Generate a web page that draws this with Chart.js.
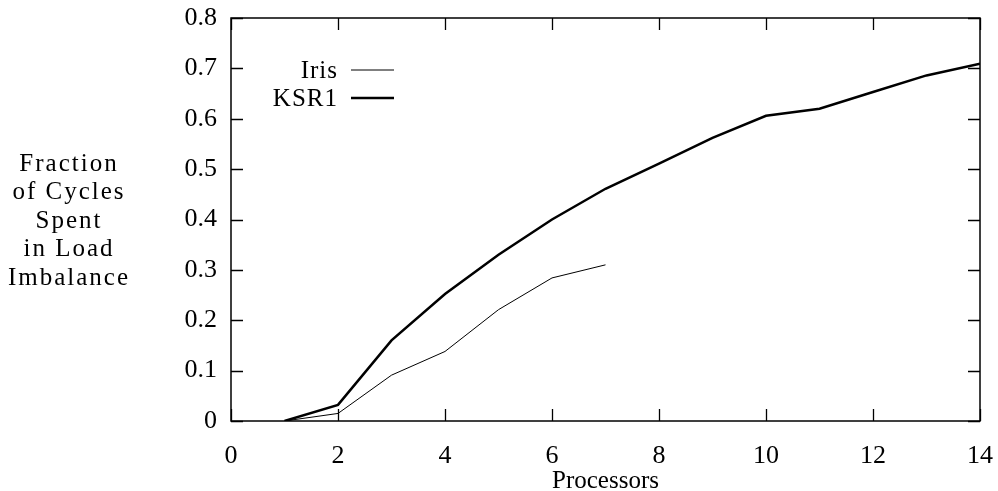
<!DOCTYPE html>
<html>
<head>
<meta charset="utf-8">
<script src="https://cdn.jsdelivr.net/npm/chart.js@4.4.1/dist/chart.umd.min.js"></script>
<style>
  html, body { margin: 0; padding: 0; background: #ffffff; }
  #wrap { width: 998px; height: 491px; position: relative; }
</style>
</head>
<body>
<div id="wrap"><canvas id="c" width="998" height="491"></canvas></div>
<script>
// ---- data ----
const irisProcessors = [1, 2, 3, 4, 5, 6, 7];
const irisValues     = [0, 0.015, 0.091, 0.138, 0.221, 0.284, 0.31];
const ksrProcessors  = [1, 2, 3, 4, 5, 6, 7, 8, 9, 10, 11, 12, 13, 14];
const ksrValues      = [0, 0.032, 0.16, 0.252, 0.33, 0.40, 0.461, 0.511, 0.562, 0.606, 0.62, 0.653, 0.686, 0.709];
const seriesLabels   = ['Iris', 'KSR1'];
const xTickValues    = [0, 2, 4, 6, 8, 10, 12, 14];
const yTickLabels    = ['0', '0.1', '0.2', '0.3', '0.4', '0.5', '0.6', '0.7', '0.8'];
const yAxisTitle     = ['Fraction', 'of Cycles', 'Spent', 'in Load', 'Imbalance'];
const xAxisTitle     = 'Processors';

const FONT = '"Liberation Serif", "Times New Roman", serif';

const toPoints = (xs, ys) => xs.map((x, i) => ({ x: x, y: ys[i] }));

// frame + inward ticks on all four sides
const framePlugin = {
  id: 'frame',
  afterDatasetsDraw(chart) {
    const { ctx, chartArea: a, scales } = chart;
    const xs = scales.x, ys = scales.y;
    const L = 12;
    ctx.save();
    ctx.strokeStyle = '#000';
    ctx.lineWidth = 1.5;
    ctx.strokeRect(a.left, a.top, a.right - a.left, a.bottom - a.top);
    ctx.lineWidth = 1.3;
    ctx.beginPath();
    xs.ticks.forEach(t => {
      const px = Math.round(xs.getPixelForValue(t.value)) + 0.5;
      ctx.moveTo(px, a.bottom); ctx.lineTo(px, a.bottom - L);
      ctx.moveTo(px, a.top); ctx.lineTo(px, a.top + L);
    });
    ys.ticks.forEach(t => {
      const py = Math.round(ys.getPixelForValue(t.value)) + 0.5;
      ctx.moveTo(a.left, py); ctx.lineTo(a.left + L, py);
      ctx.moveTo(a.right, py); ctx.lineTo(a.right - L, py);
    });
    ctx.stroke();
    ctx.restore();
  }
};

// horizontal multi-line y title at left, and legend inside plot
const textPlugin = {
  id: 'texts',
  afterDraw(chart) {
    const { ctx } = chart;
    ctx.save();
    ctx.fillStyle = '#000';
    ctx.font = '25px ' + FONT;
    ctx.textAlign = 'center';
    ctx.textBaseline = 'middle';
    try { ctx.letterSpacing = '2px'; } catch (e) {}
    const cx = 69, cy = 221, lh = 28.5;
    yAxisTitle.forEach((s, i) => {
      ctx.fillText(s, cx, cy + (i - (yAxisTitle.length - 1) / 2) * lh);
    });
    try { ctx.letterSpacing = '1px'; } catch (e) {}
    // legend
    const rows = [70, 98];
    ctx.font = '25px ' + FONT;
    chart.data.datasets.forEach((ds, i) => {
      const y = rows[i];
      ctx.textAlign = 'right';
      ctx.fillText(ds.label, 338, y + 1);
      ctx.beginPath();
      ctx.strokeStyle = ds.borderColor;
      ctx.lineWidth = ds.borderWidth;
      ctx.moveTo(351, y); ctx.lineTo(394, y);
      ctx.stroke();
    });
    ctx.restore();
  }
};

new Chart(document.getElementById('c'), {
  type: 'line',
  data: {
    datasets: [
      { label: seriesLabels[0], data: toPoints(irisProcessors, irisValues),
        borderColor: '#000', borderWidth: 1, pointRadius: 0, tension: 0, fill: false },
      { label: seriesLabels[1], data: toPoints(ksrProcessors, ksrValues),
        borderColor: '#000', borderWidth: 2.5, pointRadius: 0, tension: 0, fill: false }
    ]
  },
  options: {
    responsive: false,
    animation: false,
    devicePixelRatio: 1,
    layout: { padding: { left: 0, right: 18, top: 18, bottom: 0 } },
    plugins: { legend: { display: false }, tooltip: { enabled: false } },
    scales: {
      x: {
        type: 'linear', min: 0, max: 14,
        afterBuildTicks(scale) { scale.ticks = xTickValues.map(v => ({ value: v })); },
        afterFit(scale) { scale.height = 70; scale.paddingLeft = 0; scale.paddingRight = 0; },
        grid: { display: false, drawTicks: false },
        border: { display: false },
        ticks: { color: '#000', padding: 20, font: { family: FONT, size: 26 }, maxRotation: 0,
                 callback: v => String(v) },
        title: { display: true, text: xAxisTitle, color: '#000',
                 font: { family: FONT, size: 25, lineHeight: 0.8 }, padding: { top: 0, bottom: 0 } }
      },
      y: {
        type: 'linear', min: 0, max: 0.8,
        afterBuildTicks(scale) { scale.ticks = yTickLabels.map(s => ({ value: parseFloat(s) })); },
        afterFit(scale) { scale.width = 231; scale.paddingTop = 0; scale.paddingBottom = 0; },
        grid: { display: false, drawTicks: false },
        border: { display: false },
        ticks: { color: '#000', padding: 14, font: { family: FONT, size: 26 },
                 callback: (v, i) => yTickLabels[i] }
      }
    }
  },
  plugins: [framePlugin, textPlugin]
});
</script>
</body>
</html>
